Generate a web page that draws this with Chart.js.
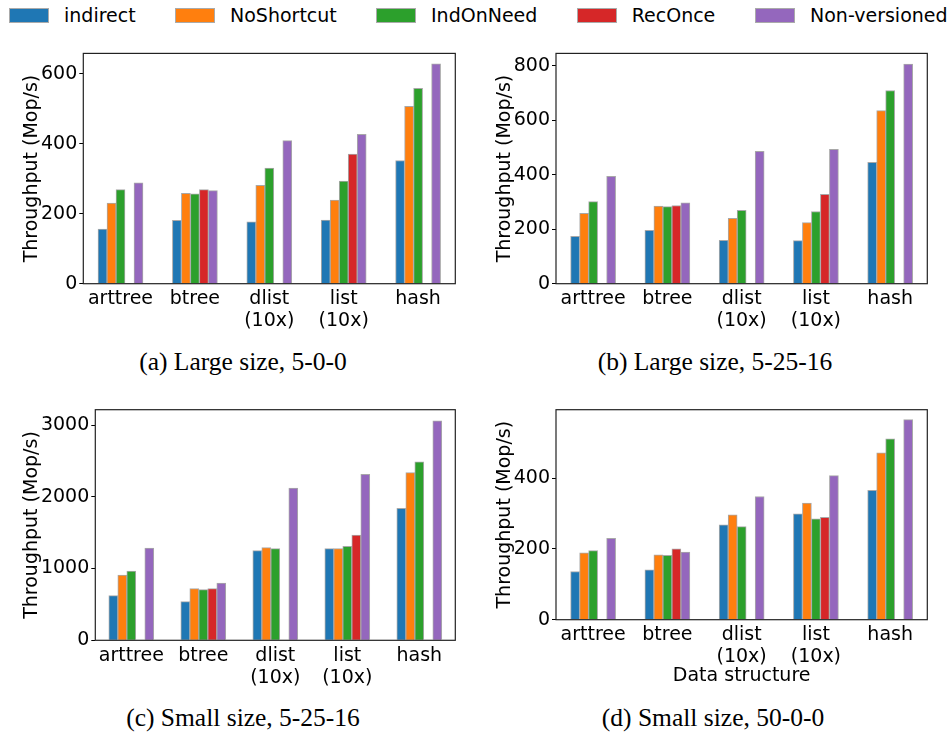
<!DOCTYPE html>
<html><head><meta charset="utf-8">
<script src="https://cdn.jsdelivr.net/npm/chart.js@4.4.1/dist/chart.umd.min.js"></script>
<style>
html,body{margin:0;padding:0;background:#fff;}
body{width:952px;height:736px;position:relative;overflow:hidden;font-family:"DejaVu Sans";}
canvas{position:absolute;}
.patch{position:absolute;top:7.5px;width:38px;height:13px;border:1px solid #aaa;}
.ltxt{position:absolute;top:6px;font:19px/19px "DejaVu Sans";color:#000;white-space:nowrap;}
.cap{position:absolute;width:400px;text-align:center;font:25.5px/26px "Liberation Serif";color:#000;white-space:nowrap;}
</style></head><body>
<div id="legend"></div>
<canvas id="ca"></canvas>
<canvas id="cb"></canvas>
<canvas id="cc"></canvas>
<canvas id="cd"></canvas>
<div class="cap" style="left:43px;top:349px">(a) Large size, 5-0-0</div>
<div class="cap" style="left:515px;top:349px">(b) Large size, 5-25-16</div>
<div class="cap" style="left:43px;top:705px">(c) Small size, 5-25-16</div>
<div class="cap" style="left:513px;top:705px">(d) Small size, 50-0-0</div>
<script>
// ---- data ----
const categories = ['arttree', 'btree', ['dlist', '(10x)'], ['list', '(10x)'], 'hash'];
const seriesNames = ['indirect', 'NoShortcut', 'IndOnNeed', 'RecOnce', 'Non-versioned'];
const seriesColors = ['#1f77b4', '#ff7f0e', '#2ca02c', '#d62728', '#9467bd'];

// (a) Large size, 5-0-0  — one row per series
const valuesA = [
  [156, 181, 177, 182, 352],
  [230, 258, 281, 239, 507],
  [269, 257, 330, 293, 558],
  [null, 269, null, 370, null],
  [288, 266, 409, 427, 628]
];
// (b) Large size, 5-25-16
const valuesB = [
  [174, 196, 159, 158, 445],
  [258, 285, 240, 224, 635],
  [301, 283, 269, 265, 709],
  [null, 287, null, 328, null],
  [394, 297, 486, 493, 806]
];
// (c) Small size, 5-25-16
const valuesC = [
  [622, 539, 1249, 1277, 1839],
  [910, 720, 1291, 1277, 2336],
  [966, 706, 1277, 1310, 2489],
  [null, 720, null, 1468, null],
  [1286, 799, 2122, 2313, 3060]
];
// (d) Small size, 50-0-0
const valuesD = [
  [136, 141, 268, 299, 365],
  [189, 183, 296, 329, 471],
  [195, 182, 263, 285, 511],
  [null, 200, null, 289, null],
  [230, 191, 348, 407, 565]
];
const ticksA = [0, 200, 400, 600];
const ticksB = [0, 200, 400, 600, 800];
const ticksC = [0, 1000, 2000, 3000];
const ticksD = [0, 200, 400];
const yTitle = 'Throughput (Mop/s)';
const xTitleD = 'Data structure';

// ---- legend ----
const legendX = [9, 175, 376, 576.7, 755];
const leg = document.getElementById('legend');
seriesNames.forEach((n, i) => {
  const p = document.createElement('div');
  p.className = 'patch'; p.style.left = legendX[i] + 'px'; p.style.background = seriesColors[i];
  leg.appendChild(p);
  const t = document.createElement('div');
  t.className = 'ltxt'; t.style.left = (legendX[i] + 55) + 'px'; t.textContent = n;
  leg.appendChild(t);
});

// ---- charts ----
const framePlugin = {
  id: 'frame',
  afterDraw(chart) {
    const { ctx, chartArea: a } = chart;
    ctx.save();
    ctx.strokeStyle = '#222';
    ctx.lineWidth = 1.2;
    ctx.strokeRect(a.left, a.top, a.right - a.left, a.bottom - a.top);
    ctx.restore();
  }
};

const FONT = { family: 'DejaVu Sans', size: 19 };

function makeChart(id, values, tickVals, yMax, cv, area, titleX, xTitle, xTitleCenterY) {
  const el = document.getElementById(id);
  el.width = cv.w; el.height = cv.h;
  el.style.left = cv.l + 'px'; el.style.top = cv.t + 'px';
  el.style.width = cv.w + 'px'; el.style.height = cv.h + 'px';
  const lh = FONT.size * 1.2;
  const padL = titleX - cv.l - lh / 2;
  const padT = area.t - cv.t;
  const padR = cv.l + cv.w - area.r;
  const yW = area.l - cv.l - padL;
  const xH = cv.t + cv.h - area.b;
  new Chart(el, {
    type: 'bar',
    data: {
      labels: categories,
      datasets: values.map((row, i) => ({
        label: seriesNames[i],
        data: row,
        backgroundColor: seriesColors[i],
        borderColor: '#a8a8a8',
        borderWidth: 1,
        barThickness: 9
      }))
    },
    options: {
      responsive: false,
      animation: false,
      devicePixelRatio: 1,
      layout: { padding: { left: padL, top: padT, right: padR, bottom: 0 } },
      plugins: { legend: { display: false }, tooltip: { enabled: false } },
      scales: {
        x: {
          offset: true,
          grid: { display: false },
          border: { display: false },
          ticks: { font: { ...FONT, lineHeight: 1.15 }, color: '#000', padding: -3.5, maxRotation: 0, autoSkip: false },
          title: xTitle ? { display: true, text: xTitle, font: FONT, color: '#000',
                            padding: { top: 0, bottom: cv.t + cv.h - lh / 2 - xTitleCenterY } } : { display: false },
          afterFit(s) { s.height = xH; }
        },
        y: {
          min: 0, max: yMax,
          grid: { display: true, drawOnChartArea: false, drawTicks: true, tickLength: 4, tickColor: '#000', tickWidth: 1 },
          border: { display: false },
          ticks: { font: FONT, color: '#000', padding: 2, callback: v => String(v) },
          title: { display: true, text: yTitle, font: FONT, color: '#000', padding: { top: 0, bottom: 0 } },
          afterBuildTicks(s) { s.ticks = tickVals.map(v => ({ value: v })); },
          afterFit(s) { s.width = yW; }
        }
      }
    },
    plugins: [framePlugin]
  });
}

makeChart('ca', valuesA, ticksA, 658, { l: 0, t: 40, w: 475, h: 300 }, { l: 83.3, t: 53.3, r: 455.3, b: 283.7 }, 32);
makeChart('cb', valuesB, ticksB, 845, { l: 475, t: 40, w: 477, h: 300 }, { l: 556, t: 53.3, r: 927.3, b: 283.7 }, 505);
makeChart('cc', valuesC, ticksC, 3214, { l: 0, t: 396, w: 475, h: 300 }, { l: 95.3, t: 409.7, r: 455.3, b: 640.3 }, 32);
makeChart('cd', valuesD, ticksD, 593, { l: 475, t: 396, w: 477, h: 304 }, { l: 556, t: 409.7, r: 927.3, b: 619.7 }, 505, xTitleD, 676);
</script>
</body></html>
